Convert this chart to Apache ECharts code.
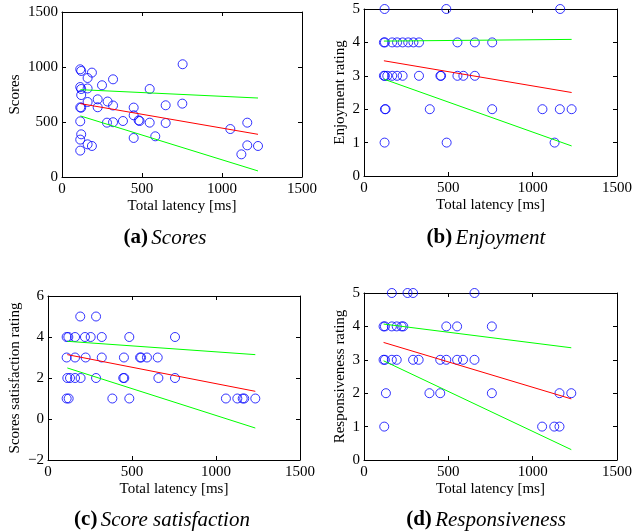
<!DOCTYPE html>
<html>
<head>
<meta charset="utf-8">
<script src="https://cdn.jsdelivr.net/npm/echarts@6/dist/echarts.min.js"></script>
<style>html,body{margin:0;padding:0;background:#fff}#c{width:635px;height:532px}</style>
</head>
<body>
<div id="c"></div>
<script>
// ---------- Data ----------
// (a) Scores
const scoresLatency = [114,120,187,160,319,250,114,120,160,548,754,120,223,160,285,319,114,120,223,448,648,752,448,114,281,319,381,479,485,548,648,1052,1158,120,114,160,187,448,583,1158,1225,1121,114];
const scoresValue   = [979,964,949,900,888,834,818,800,805,800,1025,745,706,682,686,650,633,630,634,631,652,667,561,506,494,498,509,515,509,494,491,436,494,388,340,297,282,355,370,288,282,206,240];
const scoresFitX  = [115, 1225];
const scoresFit   = [667, 388];
const scoresUpper = [794, 718];
const scoresLower = [555, 55];

// (b) Enjoyment
const enjoyLatency = [122,488,1163, 118,124,167,196,229,262,293,326,554,657,760, 118,124,138,167,196,229,326,453,457,554,589,657, 124,128,390,760,1058,1161,1231, 122,490,1130];
const enjoyValue   = [5,5,5, 4,4,4,4,4,4,4,4,4,4,4, 3,3,3,3,3,3,3,3,3,3,3,3, 2,2,2,2,2,2,2, 1,1,1];
const enjoyFitX  = [118, 1231];
const enjoyFit   = [3.45, 2.5];
const enjoyUpper = [4.04, 4.09];
const enjoyLower = [2.9, 0.9];

// (c) Score satisfaction
const satLatency = [192,286, 111,121,161,220,254,320,484,756, 111,161,224,320,452,548,554,589,653, 115,131,161,194,286,448,454,657,756, 111,123,383,484,1059,1127,1159,1168,1234];
const satValue   = [5,5, 4,4,4,4,4,4,4,4, 3,3,3,3,3,3,3,3,3, 2,2,2,2,2,2,2,2,2, 1,1,1,1,1,1,1,1,1];
const satFitX  = [115, 1234];
const satFit   = [3.14, 1.35];
const satUpper = [3.79, 3.14];
const satLower = [2.49, -0.44];

// (d) Responsiveness
const respLatency = [165,258,291,655, 116,124,165,194,223,233,488,552,758, 116,124,165,194,291,324,452,488,552,587,655, 130,388,452,758,1159,1229, 120,1056,1128,1159];
const respValue   = [5,5,5,5, 4,4,4,4,4,4,4,4,4, 3,3,3,3,3,3,3,3,3,3,3, 2,2,2,2,2,2, 1,1,1,1];
const respFitX  = [116, 1229];
const respFit   = [3.52, 1.83];
const respUpper = [4.07, 3.36];
const respLower = [2.97, 0.31];

const xTicks = {min:0, max:1500, interval:500};
const yScales = [
  {min:0, max:1500, interval:500},
  {min:0, max:5, interval:1},
  {min:-2, max:6, interval:2},
  {min:0, max:5, interval:1}
];
const yNames = ['Scores', 'Enjoyment rating', 'Scores satisfaction rating', 'Responsiveness rating'];
const xName = 'Total latency [ms]';
const captions = [['(a)', 'Scores'], ['(b)', 'Enjoyment'], ['(c)', 'Score satisfaction'], ['(d)', 'Responsiveness']];

// ---------- Layout ----------
const FONT = "'Liberation Serif','Times New Roman',serif";
const grids = [
  {left:62, right:333, top:12, bottom:355},
  {left:364, right:14, top:9, bottom:356},
  {left:48, right:335, top:296, bottom:72},
  {left:364, right:14, top:293, bottom:72}
];
const yNameGaps = [39, 16, 25, 16];
const captionPos = [[165, 238], [486, 238], [162, 520], [486, 520]];

const panels = [
  [scoresLatency, scoresValue, scoresFitX, scoresFit, scoresUpper, scoresLower],
  [enjoyLatency, enjoyValue, enjoyFitX, enjoyFit, enjoyUpper, enjoyLower],
  [satLatency, satValue, satFitX, satFit, satUpper, satLower],
  [respLatency, respValue, respFitX, respFit, respUpper, respLower]
];

const axisLine = {show:true, onZero:false, lineStyle:{color:'#000', width:1}};
const axisTick = {show:true, inside:true, length:4, lineStyle:{color:'#000', width:1}};
const labelStyle = {color:'#000', fontFamily:FONT, fontSize:15};
const fmt = v => String(v).replace('-', '\u2212');

const xAxis = [], yAxis = [], series = [], graphic = [];
grids.forEach((g, i) => {
  xAxis.push({type:'value', gridIndex:i, position:'bottom', min:xTicks.min, max:xTicks.max, interval:xTicks.interval,
    axisLine, axisTick, splitLine:{show:false},
    axisLabel:Object.assign({margin:5, formatter:fmt}, labelStyle),
    name:xName, nameLocation:'middle', nameGap:22, nameTextStyle:labelStyle});
  xAxis.push({type:'value', gridIndex:i, position:'top', min:xTicks.min, max:xTicks.max, interval:xTicks.interval,
    axisLine, axisTick, splitLine:{show:false}, axisLabel:{show:false}});
  const ys = yScales[i];
  yAxis.push({type:'value', gridIndex:i, position:'left', min:ys.min, max:ys.max, interval:ys.interval,
    axisLine, axisTick, splitLine:{show:false},
    axisLabel:Object.assign({margin:4, formatter:fmt}, labelStyle),
    name:yNames[i], nameLocation:'middle', nameGap:yNameGaps[i], nameRotate:90, nameTextStyle:labelStyle});
  yAxis.push({type:'value', gridIndex:i, position:'right', min:ys.min, max:ys.max, interval:ys.interval,
    axisLine, axisTick, splitLine:{show:false}, axisLabel:{show:false}});

  const [lx, ly, fx, fit, up, lo] = panels[i];
  series.push({type:'scatter', xAxisIndex:2*i, yAxisIndex:2*i, symbol:'circle', symbolSize:9,
    itemStyle:{color:'rgba(0,0,0,0)', borderColor:'#0000ff', borderWidth:1}, clip:false,
    data:lx.map((x, k) => [x, ly[k]])});
  const mkLine = (vals, color) => ({type:'line', xAxisIndex:2*i, yAxisIndex:2*i, showSymbol:false, symbol:'none',
    lineStyle:{color, width:1}, data:fx.map((x, k) => [x, vals[k]])});
  series.push(mkLine(up, '#00ff00'));
  series.push(mkLine(fit, '#ff0000'));
  series.push(mkLine(lo, '#00ff00'));

  graphic.push({type:'text', x:captionPos[i][0], y:captionPos[i][1],
    style:{text:'{b|' + captions[i][0] + '} {i|' + captions[i][1] + '}', align:'center', verticalAlign:'middle',
      rich:{b:{fontFamily:FONT, fontSize:21, fontWeight:'bold', fill:'#000'},
            i:{fontFamily:FONT, fontSize:21, fontStyle:'italic', fill:'#000'}}}});
});

const chart = echarts.init(document.getElementById('c'), null, {renderer:'canvas'});
chart.setOption({
  animation:false,
  backgroundColor:'#fff',
  grid:grids.map(g => Object.assign({containLabel:false}, g)),
  xAxis, yAxis, series, graphic
});
</script>
</body>
</html>
